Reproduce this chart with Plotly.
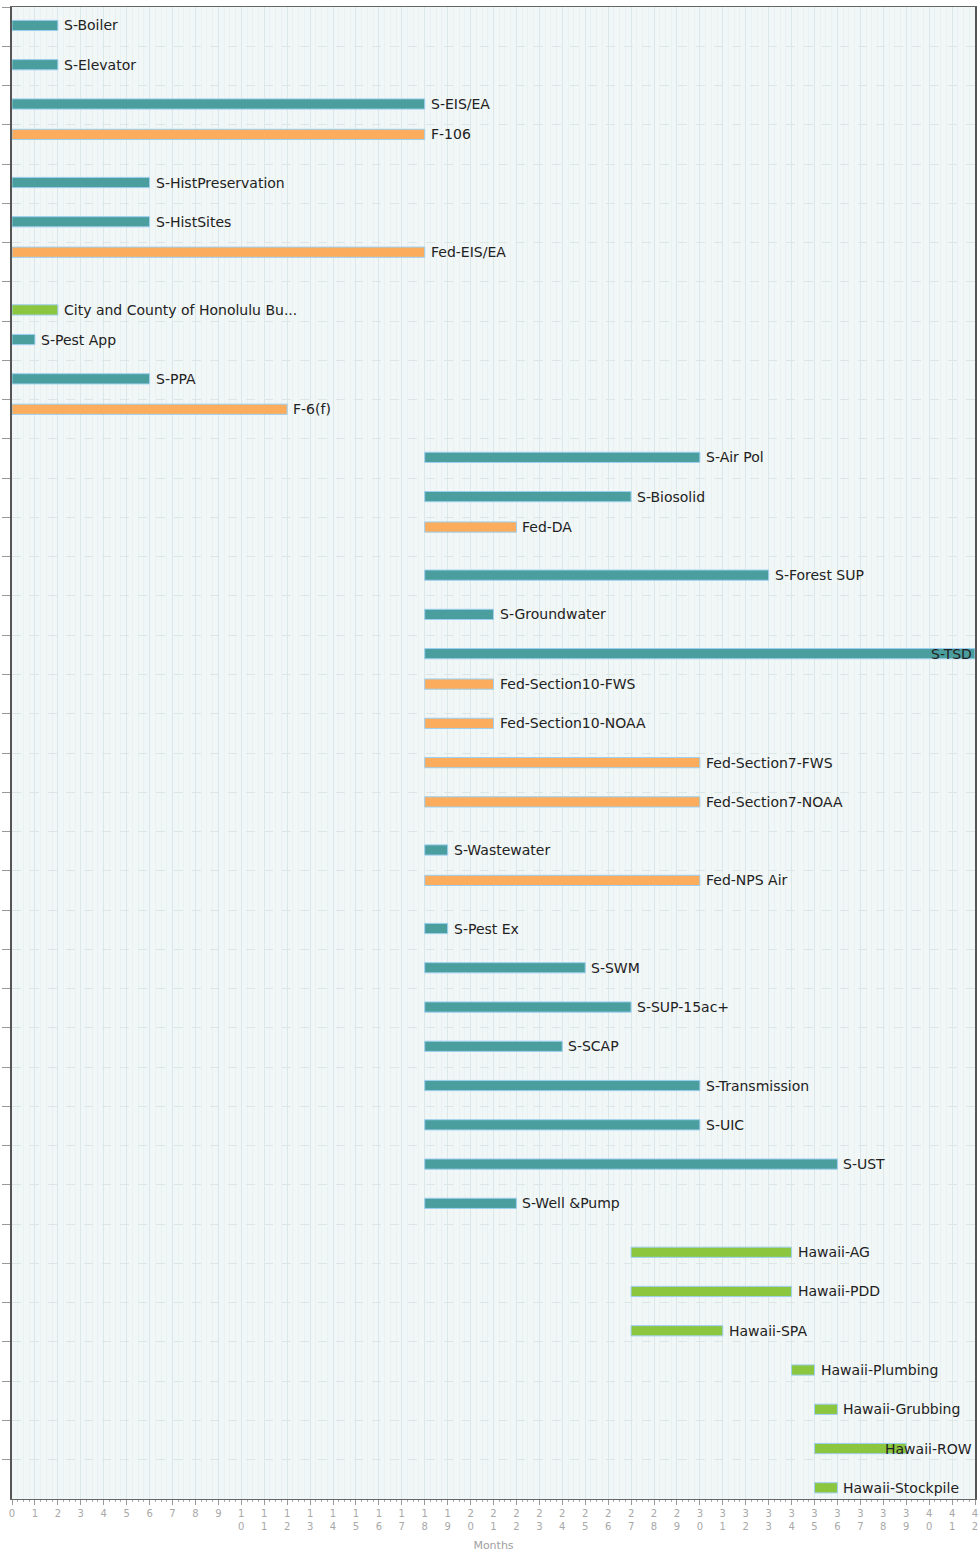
import plotly.graph_objects as go

# ---- data (months) ----
names = ["S-Boiler", "S-Elevator", "S-EIS/EA", "F-106", "S-HistPreservation", "S-HistSites",
         "Fed-EIS/EA", "City and County of Honolulu Bu...", "S-Pest App", "S-PPA", "F-6(f)",
         "S-Air Pol", "S-Biosolid", "Fed-DA", "S-Forest SUP", "S-Groundwater", "S-TSD",
         "Fed-Section10-FWS", "Fed-Section10-NOAA", "Fed-Section7-FWS", "Fed-Section7-NOAA",
         "S-Wastewater", "Fed-NPS Air", "S-Pest Ex", "S-SWM", "S-SUP-15ac+", "S-SCAP",
         "S-Transmission", "S-UIC", "S-UST", "S-Well &Pump", "Hawaii-AG", "Hawaii-PDD",
         "Hawaii-SPA", "Hawaii-Plumbing", "Hawaii-Grubbing", "Hawaii-ROW", "Hawaii-Stockpile"]
group = ["S", "S", "S", "F", "S", "S", "F", "H", "S", "S", "F",
         "S", "S", "F", "S", "S", "S", "F", "F", "F", "F",
         "S", "F", "S", "S", "S", "S", "S", "S", "S", "S",
         "H", "H", "H", "H", "H", "H", "H"]
start = [0, 0, 0, 0, 0, 0, 0, 0, 0, 0, 0,
         18, 18, 18, 18, 18, 18, 18, 18, 18, 18,
         18, 18, 18, 18, 18, 18, 18, 18, 18, 18,
         27, 27, 27, 34, 35, 35, 35]
end = [2, 2, 18, 18, 6, 6, 18, 2, 1, 6, 12,
       30, 27, 22, 33, 21, 42, 21, 21, 30, 30,
       19, 30, 19, 25, 27, 24, 30, 30, 36, 22,
       34, 34, 31, 35, 36, 39, 36]
x_max = 42
tick_vals = list(range(0, 43))

series = [("F", "#FBAD5D"), ("S", "#4A9E9E"), ("H", "#8CC63F")]
BAR_W = 0.26
slot_center = {"F": -0.255, "S": -0.03, "H": 0.215}

PLOT_H = 1556 - 7 - 57
n_rows = len(names)
row_px = PLOT_H / n_rows

fig = go.Figure()
for key, col in series:
    xs, bs, ys = [], [], []
    for n, g, s, e in zip(names, group, start, end):
        if g == key:
            ys.append(n)
            bs.append(s)
            xs.append(e - s)
    fig.add_trace(go.Bar(
        y=ys, x=xs, base=bs, orientation="h", name=key,
        width=BAR_W, offset=slot_center[key] - BAR_W / 2,
        marker=dict(color=col, line=dict(color="#9DCFF0", width=1)),
        hoverinfo="skip", showlegend=False,
    ))

# labels
px_per_month = (975 - 12) / x_max
FS = 14
annotations = []
for n, g, s, e in zip(names, group, start, end):
    est_w = len(n) * 7.6 / px_per_month
    ysh = -slot_center[g] * row_px
    if e + 0.3 + est_w > x_max:
        annotations.append(dict(x=x_max, y=n, xref="x", yref="y", text=n, showarrow=False,
                                xanchor="right", yanchor="middle", xshift=-1, yshift=ysh,
                                font=dict(family="DejaVu Sans", size=FS, color="#222")))
    else:
        annotations.append(dict(x=e, y=n, xref="x", yref="y", text=n, showarrow=False,
                                xanchor="left", yanchor="middle", xshift=4, yshift=ysh,
                                font=dict(family="DejaVu Sans", size=FS, color="#222")))

tick_text = ["<br>".join(list(str(v))) for v in tick_vals]

fig.update_layout(
    width=980, height=1556,
    margin=dict(l=12, r=5, t=7, b=57, autoexpand=False),
    paper_bgcolor="white", plot_bgcolor="#F1F6F6",
    annotations=annotations,
    font=dict(family="DejaVu Sans"),
)
fig.update_xaxes(
    range=[0, x_max], tickmode="array", tickvals=tick_vals, ticktext=tick_text,
    tickfont=dict(family="DejaVu Sans", size=10, color="#A8A8A8"),
    ticks="outside", ticklen=5, tickcolor="#999",
    showgrid=True, gridcolor="#DCE8E8", gridwidth=1,
    minor=dict(dtick=0.25, ticks="outside", ticklen=2, tickcolor="#AAA", showgrid=True, gridcolor="#E9F1F1"),
    showline=True, linecolor="#666", linewidth=1, mirror=True,
    zeroline=False, automargin=False,
    title=dict(text="Months", font=dict(family="DejaVu Sans", size=11, color="#A0A0A0"), standoff=10),
)
fig.update_yaxes(
    type="category", categoryorder="array", categoryarray=names, autorange="reversed",
    showticklabels=False, ticks="outside", ticklen=8, tickcolor="#999", tickson="boundaries",
    showgrid=True, gridcolor="#DCE6E6", griddash="dash",
    showline=True, linecolor="#555", linewidth=2, mirror=True,
    zeroline=False, automargin=False,
)

fig.write_html("out.html", config={"displayModeBar": False},
               post_script="document.body.style.margin='0';document.body.style.overflow='hidden';")
